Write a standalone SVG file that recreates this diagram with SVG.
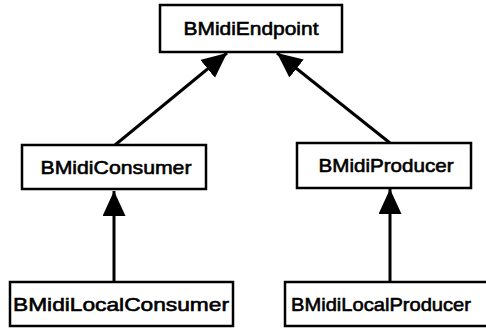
<svg xmlns="http://www.w3.org/2000/svg" width="486" height="328" viewBox="0 0 486 328">
  <style>
    .box { fill: #ffffff; stroke: #000000; stroke-width: 2.5; }
    .label { font-family: "Liberation Sans", Arial, sans-serif; font-size: 19px; font-weight: normal; fill: #000000; stroke: #000000; stroke-width: 0.6; text-anchor: middle; }
    .edge { stroke: #000000; stroke-width: 3; fill: none; marker-end: url(#tri); }
  </style>
  <defs>
    <marker id="tri" markerUnits="userSpaceOnUse" markerWidth="27" markerHeight="24" refX="25" refY="11.5" orient="auto">
      <path d="M0,0 L25,11.5 L0,23 Z" fill="#000000"/>
    </marker>
  </defs>
  <rect width="486" height="328" fill="#ffffff"/>

  <g id="connectors">
    <line class="edge" x1="115" y1="145" x2="227" y2="53"/>
    <line class="edge" x1="390" y1="143" x2="277" y2="53"/>
    <line class="edge" x1="114" y1="282" x2="114" y2="191"/>
    <line class="edge" x1="390" y1="282" x2="390" y2="189"/>
  </g>

  <g id="BMidiEndpoint">
    <rect class="box" x="160" y="5" width="182" height="47"/>
    <text class="label" x="251" y="35" textLength="135" lengthAdjust="spacingAndGlyphs">BMidiEndpoint</text>
  </g>
  <g id="BMidiConsumer">
    <rect class="box" x="22" y="145" width="184" height="44"/>
    <text class="label" x="116" y="174" textLength="151" lengthAdjust="spacingAndGlyphs">BMidiConsumer</text>
  </g>
  <g id="BMidiProducer">
    <rect class="box" x="297" y="143" width="174" height="45"/>
    <text class="label" x="386" y="172" textLength="135" lengthAdjust="spacingAndGlyphs">BMidiProducer</text>
  </g>
  <g id="BMidiLocalConsumer">
    <rect class="box" x="10" y="282" width="223" height="44"/>
    <text class="label" x="121" y="311" textLength="216" lengthAdjust="spacingAndGlyphs">BMidiLocalConsumer</text>
  </g>
  <g id="BMidiLocalProducer">
    <rect class="box" x="285" y="282" width="210" height="44"/>
    <text class="label" x="381" y="311" textLength="180" lengthAdjust="spacingAndGlyphs">BMidiLocalProducer</text>
  </g>
</svg>
